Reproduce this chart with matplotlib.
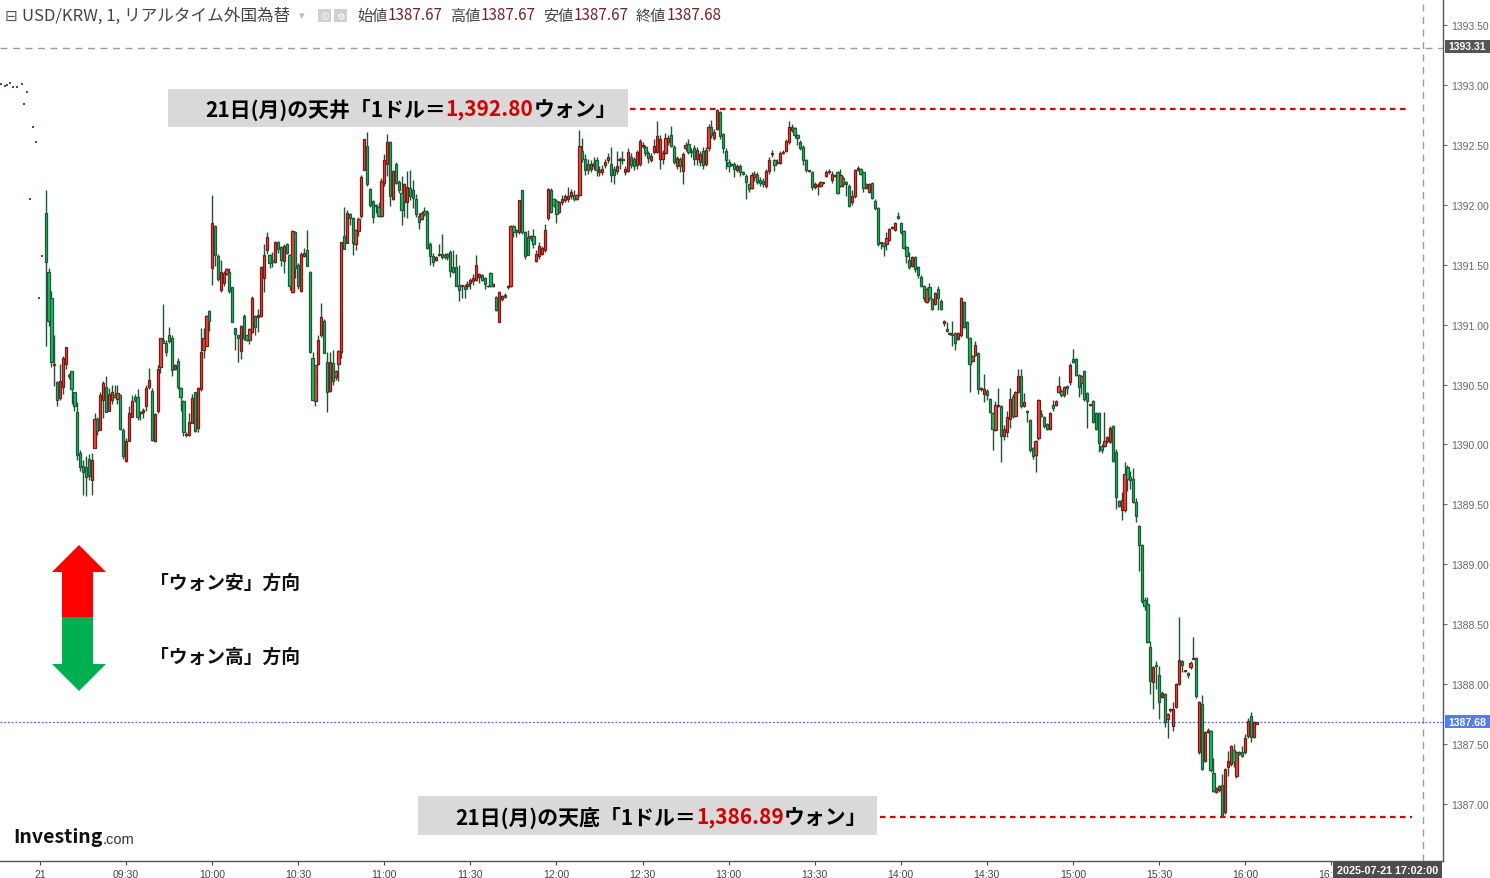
import numpy as np
import matplotlib
matplotlib.use("Agg")
import matplotlib.pyplot as plt
from matplotlib.patches import Rectangle, Polygon
from matplotlib.transforms import Bbox

JP = ["Noto Sans CJK JP", "DejaVu Sans"]
plt.rcParams["font.family"] = JP

W, H = 1490, 879

# 1-minute USD/KRW candles, 21 Jul, first bar at 09:02
FIRST_BAR_MIN = 2
opens = [
    1391.93, 1391.44, 1391.22, 1390.66, 1390.52, 1390.39, 1390.48, 1390.67, 1390.57, 1390.61,
    1390.44, 1390.27, 1389.93, 1389.82, 1389.81, 1389.88, 1389.70, 1389.97, 1390.21, 1390.12,
    1390.37, 1390.48, 1390.28, 1390.37, 1390.41, 1390.38, 1390.41, 1390.12, 1389.86, 1390.03,
    1390.23, 1390.40, 1390.40, 1390.26, 1390.27, 1390.32, 1390.48, 1390.45, 1390.03, 1390.28,
    1390.65, 1390.87, 1390.85, 1390.91, 1390.89, 1390.63, 1390.70, 1390.47, 1390.36, 1390.08,
    1390.08, 1390.18, 1390.44, 1390.14, 1390.46, 1390.79, 1390.82, 1391.11, 1391.47, 1391.82,
    1391.57, 1391.29, 1391.35, 1391.42, 1391.44, 1391.31, 1390.97, 1390.91, 1390.78, 1391.07,
    1390.91, 1390.87, 1390.94, 1391.07, 1391.06, 1391.07, 1391.39, 1391.62, 1391.58, 1391.54,
    1391.52, 1391.69, 1391.65, 1391.53, 1391.67, 1391.58, 1391.27, 1391.77, 1391.50, 1391.28,
    1391.57, 1391.62, 1391.44, 1390.72, 1390.36, 1390.67, 1390.91, 1391.03, 1390.69, 1390.45,
    1390.68, 1390.56, 1390.67, 1390.77, 1391.74, 1391.68, 1391.92, 1391.89, 1391.67, 1391.78,
    1391.91, 1392.29, 1392.49, 1392.13, 1392.03, 1392.00, 1391.98, 1391.91, 1392.18, 1392.34,
    1392.52, 1392.05, 1392.34, 1392.19, 1392.10, 1392.02, 1392.02, 1392.14, 1392.12, 1392.05,
    1391.91, 1391.88, 1391.95, 1391.94, 1391.67, 1391.57, 1391.54, 1391.58, 1391.59, 1391.58,
    1391.56, 1391.61, 1391.48, 1391.48, 1391.33, 1391.32, 1391.32, 1391.32, 1391.35, 1391.36,
    1391.37, 1391.40, 1391.41, 1391.39, 1391.32, 1391.43, 1391.32, 1391.23, 1391.02, 1391.21,
    1391.25, 1391.31, 1391.32, 1391.82, 1391.79, 1391.77, 1392.12, 1391.77, 1391.73, 1391.72,
    1391.74, 1391.53, 1391.57, 1391.59, 1391.62, 1391.89, 1392.12, 1392.05, 1392.03, 1391.94,
    1392.02, 1392.04, 1392.05, 1392.07, 1392.08, 1392.05, 1392.08, 1392.45, 1392.38, 1392.34,
    1392.30, 1392.32, 1392.37, 1392.27, 1392.27, 1392.33, 1392.37, 1392.34, 1392.30, 1392.28,
    1392.37, 1392.38, 1392.27, 1392.28, 1392.40, 1392.38, 1392.33, 1392.34, 1392.49, 1392.48,
    1392.43, 1392.37, 1392.44, 1392.44, 1392.38, 1392.38, 1392.43, 1392.52, 1392.58, 1392.48,
    1392.32, 1392.38, 1392.28, 1392.47, 1392.51, 1392.45, 1392.47, 1392.38, 1392.36, 1392.45,
    1392.34, 1392.47, 1392.65, 1392.56, 1392.63, 1392.77, 1392.59, 1392.45, 1392.36, 1392.34,
    1392.34, 1392.29, 1392.32, 1392.27, 1392.24, 1392.17, 1392.14, 1392.23, 1392.25, 1392.21,
    1392.20, 1392.16, 1392.28, 1392.42, 1392.37, 1392.35, 1392.35, 1392.43, 1392.45, 1392.52,
    1392.62, 1392.64, 1392.58, 1392.52, 1392.48, 1392.37, 1392.28, 1392.27, 1392.15, 1392.16,
    1392.16, 1392.18, 1392.24, 1392.27, 1392.21, 1392.24, 1392.27, 1392.16, 1392.22, 1392.19,
    1392.16, 1392.02, 1392.07, 1392.29, 1392.30, 1392.27, 1392.14, 1392.11, 1392.18, 1392.03,
    1391.97, 1391.68, 1391.68, 1391.67, 1391.71, 1391.81, 1391.79, 1391.91, 1391.85, 1391.78,
    1391.65, 1391.54, 1391.49, 1391.56, 1391.48, 1391.40, 1391.32, 1391.19, 1391.31, 1391.21,
    1391.17, 1391.30, 1391.20, 1391.01, 1390.96, 1390.92, 1390.92, 1390.93, 1390.88, 1390.91,
    1391.19, 1391.02, 1390.89, 1390.70, 1390.75, 1390.76, 1390.46, 1390.42, 1390.45, 1390.38,
    1390.26, 1390.12, 1390.32, 1390.32, 1390.07, 1390.10, 1390.21, 1390.40, 1390.24, 1390.44,
    1390.57, 1390.32, 1390.28, 1390.20, 1389.97, 1389.91, 1390.05, 1390.25, 1390.23, 1390.17,
    1390.13, 1390.33, 1390.33, 1390.44, 1390.45, 1390.41, 1390.49, 1390.52, 1390.71, 1390.71,
    1390.58, 1390.51, 1390.61, 1390.43, 1390.33, 1390.36, 1390.26, 1390.26, 1389.99, 1389.99,
    1390.03, 1390.02, 1390.15, 1389.94, 1389.53, 1389.45, 1389.45, 1389.81, 1389.73, 1389.71,
    1389.52, 1389.32, 1389.16, 1388.70, 1388.67, 1388.31, 1388.02, 1388.16, 1388.08, 1387.89,
    1387.92, 1387.71, 1387.78, 1387.65, 1387.81, 1388.00, 1388.19, 1388.11, 1388.09, 1388.14,
    1388.21, 1388.22, 1387.43, 1387.83, 1387.36, 1387.60, 1387.61, 1387.26, 1387.10, 1387.12,
    1387.16, 1386.93, 1387.31, 1387.33, 1387.45, 1387.23, 1387.43, 1387.43, 1387.43, 1387.57,
    1387.73, 1387.56, 1387.67,
]
highs = [
    1392.12, 1391.47, 1391.28, 1390.91, 1390.53, 1390.67, 1390.74, 1390.81, 1390.60, 1390.61,
    1390.44, 1390.35, 1389.95, 1389.87, 1389.90, 1389.92, 1389.93, 1390.26, 1390.23, 1390.44,
    1390.53, 1390.57, 1390.47, 1390.50, 1390.50, 1390.50, 1390.42, 1390.14, 1390.05, 1390.32,
    1390.41, 1390.42, 1390.46, 1390.28, 1390.30, 1390.50, 1390.64, 1390.47, 1390.26, 1390.66,
    1390.89, 1391.17, 1390.87, 1390.98, 1390.91, 1390.67, 1390.72, 1390.48, 1390.37, 1390.10,
    1390.26, 1390.42, 1390.44, 1390.48, 1390.97, 1390.97, 1391.08, 1391.12, 1392.08, 1391.83,
    1391.59, 1391.54, 1391.45, 1391.47, 1391.47, 1391.31, 1390.97, 1390.91, 1391.00, 1391.09,
    1390.91, 1390.97, 1391.24, 1391.08, 1391.13, 1391.49, 1391.67, 1391.77, 1391.59, 1391.61,
    1391.70, 1391.70, 1391.66, 1391.67, 1391.68, 1391.59, 1391.79, 1391.78, 1391.51, 1391.61,
    1391.64, 1391.79, 1391.45, 1390.77, 1390.66, 1390.91, 1391.18, 1391.05, 1390.77, 1390.77,
    1390.79, 1390.62, 1390.79, 1391.69, 1391.98, 1391.96, 1391.93, 1391.90, 1391.80, 1391.90,
    1392.25, 1392.55, 1392.61, 1392.14, 1392.04, 1392.01, 1392.02, 1392.22, 1392.42, 1392.59,
    1392.53, 1392.29, 1392.36, 1392.21, 1392.24, 1392.18, 1392.28, 1392.29, 1392.21, 1392.09,
    1391.93, 1391.95, 1391.98, 1391.96, 1391.69, 1391.60, 1391.57, 1391.67, 1391.76, 1391.60,
    1391.60, 1391.62, 1391.62, 1391.59, 1391.50, 1391.33, 1391.34, 1391.36, 1391.39, 1391.42,
    1391.58, 1391.43, 1391.42, 1391.40, 1391.33, 1391.44, 1391.35, 1391.24, 1391.28, 1391.25,
    1391.26, 1391.33, 1391.83, 1391.83, 1391.80, 1392.04, 1392.12, 1391.78, 1391.79, 1391.75,
    1391.80, 1391.62, 1391.69, 1391.66, 1391.84, 1392.14, 1392.14, 1392.06, 1392.05, 1392.03,
    1392.08, 1392.09, 1392.15, 1392.13, 1392.12, 1392.09, 1392.62, 1392.56, 1392.42, 1392.38,
    1392.37, 1392.40, 1392.40, 1392.32, 1392.33, 1392.38, 1392.43, 1392.48, 1392.32, 1392.45,
    1392.40, 1392.45, 1392.32, 1392.47, 1392.43, 1392.40, 1392.46, 1392.55, 1392.52, 1392.50,
    1392.45, 1392.43, 1392.55, 1392.70, 1392.58, 1392.46, 1392.60, 1392.58, 1392.66, 1392.50,
    1392.41, 1392.40, 1392.44, 1392.52, 1392.55, 1392.47, 1392.50, 1392.48, 1392.45, 1392.48,
    1392.48, 1392.67, 1392.71, 1392.63, 1392.80, 1392.78, 1392.60, 1392.47, 1392.38, 1392.35,
    1392.36, 1392.34, 1392.34, 1392.28, 1392.26, 1392.18, 1392.27, 1392.28, 1392.27, 1392.23,
    1392.22, 1392.30, 1392.40, 1392.46, 1392.38, 1392.38, 1392.45, 1392.46, 1392.55, 1392.70,
    1392.67, 1392.65, 1392.59, 1392.54, 1392.50, 1392.38, 1392.29, 1392.28, 1392.19, 1392.18,
    1392.20, 1392.19, 1392.29, 1392.30, 1392.28, 1392.25, 1392.28, 1392.30, 1392.24, 1392.20,
    1392.17, 1392.12, 1392.30, 1392.32, 1392.31, 1392.28, 1392.18, 1392.18, 1392.19, 1392.05,
    1391.98, 1391.69, 1391.69, 1391.77, 1391.81, 1391.82, 1391.86, 1391.94, 1391.86, 1391.79,
    1391.66, 1391.61, 1391.57, 1391.57, 1391.49, 1391.41, 1391.33, 1391.31, 1391.35, 1391.22,
    1391.27, 1391.32, 1391.21, 1391.04, 1391.02, 1390.94, 1391.03, 1390.94, 1390.94, 1391.23,
    1391.20, 1391.03, 1390.90, 1390.75, 1390.86, 1390.77, 1390.48, 1390.59, 1390.46, 1390.39,
    1390.27, 1390.36, 1390.47, 1390.33, 1390.16, 1390.28, 1390.47, 1390.42, 1390.45, 1390.63,
    1390.63, 1390.43, 1390.29, 1390.21, 1389.98, 1390.04, 1390.38, 1390.29, 1390.24, 1390.18,
    1390.27, 1390.37, 1390.37, 1390.57, 1390.46, 1390.49, 1390.50, 1390.68, 1390.80, 1390.72,
    1390.59, 1390.58, 1390.62, 1390.44, 1390.34, 1390.37, 1390.27, 1390.27, 1390.00, 1390.27,
    1390.07, 1390.15, 1390.16, 1389.96, 1389.54, 1389.60, 1389.85, 1389.83, 1389.78, 1389.80,
    1389.55, 1389.33, 1389.17, 1388.73, 1388.73, 1388.36, 1388.15, 1388.19, 1388.15, 1387.94,
    1387.93, 1387.76, 1387.80, 1387.85, 1388.01, 1388.56, 1388.20, 1388.12, 1388.10, 1388.19,
    1388.39, 1388.23, 1387.86, 1387.91, 1387.61, 1387.63, 1387.62, 1387.38, 1387.14, 1387.16,
    1387.25, 1387.30, 1387.44, 1387.49, 1387.50, 1387.44, 1387.44, 1387.48, 1387.58, 1387.72,
    1387.77, 1387.69, 1387.68,
]
lows = [
    1390.82, 1390.99, 1390.65, 1390.49, 1390.32, 1390.37, 1390.42, 1390.63, 1390.55, 1390.34,
    1390.28, 1389.87, 1389.78, 1389.58, 1389.57, 1389.70, 1389.58, 1389.97, 1390.08, 1390.12,
    1390.22, 1390.27, 1390.28, 1390.34, 1390.39, 1390.34, 1390.12, 1389.88, 1389.85, 1390.03,
    1390.23, 1390.35, 1390.20, 1390.20, 1390.22, 1390.28, 1390.46, 1390.03, 1390.02, 1390.26,
    1390.60, 1390.85, 1390.74, 1390.85, 1390.57, 1390.62, 1390.46, 1390.28, 1390.07, 1390.06,
    1390.07, 1390.18, 1390.10, 1390.10, 1390.45, 1390.72, 1390.82, 1390.95, 1391.33, 1391.49,
    1391.36, 1391.27, 1391.32, 1391.41, 1391.26, 1391.02, 1390.79, 1390.69, 1390.71, 1390.87,
    1390.86, 1390.84, 1390.93, 1390.91, 1390.94, 1391.06, 1391.27, 1391.59, 1391.47, 1391.48,
    1391.51, 1391.60, 1391.49, 1391.43, 1391.59, 1391.29, 1391.26, 1391.39, 1391.30, 1391.27,
    1391.56, 1391.49, 1390.76, 1390.37, 1390.32, 1390.66, 1390.90, 1390.76, 1390.27, 1390.44,
    1390.50, 1390.54, 1390.53, 1390.72, 1391.63, 1391.68, 1391.83, 1391.58, 1391.62, 1391.74,
    1391.89, 1392.29, 1392.16, 1391.98, 1391.85, 1391.93, 1391.90, 1391.90, 1392.16, 1392.24,
    1391.99, 1392.04, 1392.17, 1392.10, 1391.83, 1391.90, 1391.89, 1392.04, 1391.97, 1391.90,
    1391.80, 1391.87, 1391.91, 1391.63, 1391.50, 1391.49, 1391.53, 1391.57, 1391.55, 1391.55,
    1391.54, 1391.40, 1391.43, 1391.32, 1391.20, 1391.22, 1391.22, 1391.30, 1391.30, 1391.33,
    1391.36, 1391.35, 1391.36, 1391.30, 1391.31, 1391.31, 1391.31, 1391.11, 1391.02, 1391.20,
    1391.22, 1391.30, 1391.31, 1391.73, 1391.73, 1391.76, 1391.76, 1391.55, 1391.58, 1391.70,
    1391.64, 1391.52, 1391.55, 1391.58, 1391.61, 1391.87, 1391.93, 1391.98, 1391.85, 1391.93,
    1392.00, 1392.02, 1392.02, 1392.05, 1392.03, 1392.04, 1392.07, 1392.36, 1392.25, 1392.26,
    1392.27, 1392.29, 1392.24, 1392.24, 1392.25, 1392.31, 1392.35, 1392.19, 1392.17, 1392.26,
    1392.30, 1392.34, 1392.25, 1392.27, 1392.31, 1392.29, 1392.30, 1392.32, 1392.47, 1392.41,
    1392.35, 1392.36, 1392.42, 1392.43, 1392.30, 1392.34, 1392.42, 1392.50, 1392.48, 1392.34,
    1392.30, 1392.27, 1392.17, 1392.45, 1392.42, 1392.40, 1392.33, 1392.33, 1392.32, 1392.30,
    1392.32, 1392.45, 1392.56, 1392.54, 1392.62, 1392.55, 1392.43, 1392.30, 1392.27, 1392.32,
    1392.23, 1392.27, 1392.24, 1392.25, 1392.05, 1392.11, 1392.13, 1392.20, 1392.17, 1392.16,
    1392.15, 1392.14, 1392.26, 1392.40, 1392.28, 1392.34, 1392.34, 1392.42, 1392.44, 1392.51,
    1392.61, 1392.56, 1392.50, 1392.46, 1392.33, 1392.27, 1392.27, 1392.12, 1392.13, 1392.08,
    1392.15, 1392.17, 1392.23, 1392.26, 1392.18, 1392.23, 1392.09, 1392.15, 1392.15, 1392.07,
    1391.98, 1392.00, 1392.06, 1392.28, 1392.25, 1392.11, 1392.13, 1392.10, 1392.05, 1391.96,
    1391.66, 1391.63, 1391.57, 1391.62, 1391.70, 1391.80, 1391.78, 1391.88, 1391.76, 1391.63,
    1391.51, 1391.46, 1391.48, 1391.44, 1391.39, 1391.31, 1391.20, 1391.18, 1391.20, 1391.12,
    1391.16, 1391.12, 1391.12, 1390.99, 1390.94, 1390.91, 1390.82, 1390.79, 1390.87, 1390.90,
    1390.97, 1390.89, 1390.44, 1390.69, 1390.74, 1390.42, 1390.45, 1390.35, 1390.37, 1390.26,
    1389.95, 1390.11, 1390.31, 1389.85, 1390.04, 1390.06, 1390.14, 1390.22, 1390.23, 1390.43,
    1390.30, 1390.31, 1390.19, 1389.94, 1389.88, 1389.77, 1390.04, 1390.23, 1390.14, 1390.12,
    1390.12, 1390.28, 1390.32, 1390.43, 1390.40, 1390.40, 1390.42, 1390.50, 1390.68, 1390.57,
    1390.40, 1390.42, 1390.36, 1390.14, 1390.32, 1390.18, 1390.12, 1389.94, 1389.93, 1389.98,
    1390.01, 1390.01, 1389.85, 1389.46, 1389.48, 1389.37, 1389.44, 1389.61, 1389.63, 1389.51,
    1389.35, 1388.94, 1388.68, 1388.62, 1388.34, 1387.92, 1387.79, 1387.96, 1387.71, 1387.88,
    1387.64, 1387.55, 1387.77, 1387.61, 1387.80, 1387.99, 1388.10, 1388.10, 1388.05, 1388.13,
    1388.21, 1387.88, 1387.42, 1387.28, 1387.35, 1387.59, 1387.27, 1387.10, 1387.09, 1387.10,
    1386.89, 1386.92, 1387.23, 1387.32, 1387.31, 1387.22, 1387.41, 1387.39, 1387.42, 1387.55,
    1387.52, 1387.55, 1387.67,
]
closes = [
    1391.52, 1391.03, 1390.69, 1390.67, 1390.37, 1390.53, 1390.72, 1390.81, 1390.58, 1390.46,
    1390.32, 1389.91, 1389.81, 1389.77, 1389.73, 1389.74, 1389.87, 1390.21, 1390.11, 1390.41,
    1390.51, 1390.27, 1390.42, 1390.44, 1390.40, 1390.43, 1390.13, 1389.90, 1390.03, 1390.26,
    1390.36, 1390.37, 1390.23, 1390.27, 1390.29, 1390.47, 1390.54, 1390.04, 1390.25, 1390.63,
    1390.89, 1390.85, 1390.77, 1390.86, 1390.62, 1390.66, 1390.48, 1390.40, 1390.10, 1390.09,
    1390.19, 1390.39, 1390.11, 1390.47, 1390.77, 1390.89, 1391.07, 1391.03, 1391.85, 1391.58,
    1391.38, 1391.44, 1391.43, 1391.46, 1391.28, 1391.02, 1390.92, 1390.89, 1390.99, 1390.89,
    1390.87, 1390.96, 1391.22, 1390.98, 1391.08, 1391.48, 1391.58, 1391.73, 1391.51, 1391.52,
    1391.69, 1391.63, 1391.54, 1391.66, 1391.60, 1391.32, 1391.78, 1391.47, 1391.32, 1391.59,
    1391.60, 1391.49, 1390.77, 1390.37, 1390.66, 1390.87, 1391.06, 1390.76, 1390.44, 1390.69,
    1390.53, 1390.61, 1390.78, 1391.69, 1391.63, 1391.93, 1391.89, 1391.68, 1391.79, 1391.88,
    1392.23, 1392.55, 1392.17, 1392.00, 1391.90, 1391.99, 1391.91, 1392.20, 1392.37, 1392.52,
    1392.07, 1392.28, 1392.18, 1392.12, 1391.96, 1392.17, 1392.15, 1392.07, 1392.06, 1391.92,
    1391.86, 1391.93, 1391.92, 1391.64, 1391.57, 1391.52, 1391.56, 1391.58, 1391.56, 1391.56,
    1391.59, 1391.45, 1391.44, 1391.32, 1391.29, 1391.33, 1391.30, 1391.34, 1391.37, 1391.39,
    1391.50, 1391.42, 1391.37, 1391.34, 1391.32, 1391.32, 1391.34, 1391.12, 1391.27, 1391.24,
    1391.23, 1391.32, 1391.82, 1391.77, 1391.77, 1392.04, 1391.77, 1391.57, 1391.58, 1391.74,
    1391.67, 1391.59, 1391.66, 1391.64, 1391.79, 1392.13, 1391.94, 1392.00, 1391.92, 1392.02,
    1392.05, 1392.07, 1392.07, 1392.11, 1392.05, 1392.08, 1392.49, 1392.38, 1392.29, 1392.29,
    1392.34, 1392.35, 1392.29, 1392.29, 1392.30, 1392.36, 1392.40, 1392.25, 1392.25, 1392.32,
    1392.38, 1392.37, 1392.30, 1392.44, 1392.33, 1392.32, 1392.44, 1392.53, 1392.50, 1392.43,
    1392.39, 1392.41, 1392.49, 1392.57, 1392.55, 1392.43, 1392.56, 1392.56, 1392.49, 1392.36,
    1392.39, 1392.32, 1392.42, 1392.50, 1392.44, 1392.44, 1392.38, 1392.46, 1392.42, 1392.33,
    1392.46, 1392.65, 1392.58, 1392.61, 1392.79, 1392.57, 1392.47, 1392.37, 1392.32, 1392.33,
    1392.30, 1392.32, 1392.27, 1392.26, 1392.19, 1392.13, 1392.25, 1392.26, 1392.19, 1392.18,
    1392.17, 1392.28, 1392.37, 1392.43, 1392.33, 1392.36, 1392.43, 1392.44, 1392.53, 1392.65,
    1392.65, 1392.58, 1392.56, 1392.47, 1392.37, 1392.29, 1392.28, 1392.15, 1392.17, 1392.16,
    1392.19, 1392.18, 1392.27, 1392.28, 1392.26, 1392.24, 1392.10, 1392.25, 1392.17, 1392.17,
    1391.99, 1392.07, 1392.29, 1392.31, 1392.26, 1392.14, 1392.17, 1392.17, 1392.06, 1391.97,
    1391.67, 1391.68, 1391.66, 1391.72, 1391.80, 1391.81, 1391.85, 1391.89, 1391.77, 1391.64,
    1391.57, 1391.48, 1391.56, 1391.46, 1391.41, 1391.32, 1391.22, 1391.30, 1391.22, 1391.13,
    1391.26, 1391.22, 1391.13, 1391.03, 1390.95, 1390.93, 1390.91, 1390.85, 1390.93, 1391.22,
    1390.98, 1390.90, 1390.67, 1390.74, 1390.83, 1390.46, 1390.47, 1390.46, 1390.41, 1390.27,
    1390.13, 1390.33, 1390.33, 1390.07, 1390.13, 1390.23, 1390.38, 1390.24, 1390.44, 1390.57,
    1390.32, 1390.35, 1390.27, 1389.95, 1389.90, 1390.03, 1390.37, 1390.24, 1390.15, 1390.13,
    1390.26, 1390.30, 1390.36, 1390.49, 1390.41, 1390.48, 1390.47, 1390.66, 1390.69, 1390.58,
    1390.48, 1390.57, 1390.38, 1390.36, 1390.33, 1390.19, 1390.13, 1390.01, 1389.95, 1390.03,
    1390.06, 1390.14, 1389.86, 1389.56, 1389.49, 1389.54, 1389.75, 1389.71, 1389.70, 1389.52,
    1389.40, 1389.16, 1388.69, 1388.65, 1388.35, 1388.03, 1388.14, 1388.15, 1387.85, 1387.93,
    1387.68, 1387.75, 1387.79, 1387.79, 1388.00, 1388.20, 1388.16, 1388.11, 1388.08, 1388.18,
    1388.22, 1387.90, 1387.85, 1387.29, 1387.60, 1387.62, 1387.28, 1387.11, 1387.13, 1387.15,
    1386.90, 1387.29, 1387.36, 1387.48, 1387.35, 1387.43, 1387.42, 1387.40, 1387.55, 1387.69,
    1387.56, 1387.68, 1387.68,
]

# stray ticks left over from the previous session (minutes before 09:00)
pre_minutes = [-13.6, -12.2, -11.5, -10.5, -9.4, -8.0, -6.3, -5.6, -4.5, -3.5, -2.4, -1.4, -0.35, 0.7]
pre_prices = [1393.01, 1392.99, 1393.00, 1393.02, 1392.98, 1392.98, 1393.01, 1392.84, 1392.94,
              1392.05, 1392.65, 1392.52, 1391.22, 1391.57]

x_tick_min = [0, 30, 60, 90, 120, 150, 180, 210, 240, 270, 300, 330, 360, 390, 420, 450]
x_tick_lbl = ["21", "09:30", "10:00", "10:30", "11:00", "11:30", "12:00", "12:30",
              "13:00", "13:30", "14:00", "14:30", "15:00", "15:30", "16:00", "16:30"]
y_ticks = [1387.0, 1387.5, 1388.0, 1388.5, 1389.0, 1389.5, 1390.0, 1390.5,
           1391.0, 1391.5, 1392.0, 1392.5, 1393.0, 1393.5]

day_high = 1392.80
day_low = 1386.89
last_price = 1387.68
cross_price = 1393.31
cross_minute = 482  # 17:02

UP_FILL, UP_EDGE = "#f4473f", "#7a1a16"
DN_FILL, DN_EDGE = "#10c46a", "#1b5a35"
WICK = "#1e5534"


def fx(x):
    return x / W


def fy(y):
    return 1 - y / H


fig = plt.figure(figsize=(W / 100, H / 100), dpi=100)
fig.patch.set_facecolor("white")
ax = fig.add_axes([0, fy(862), fx(1443), 862 / H])

o = np.array(opens)
h = np.array(highs)
l = np.array(lows)
c = np.array(closes)
t = np.arange(len(c)) + FIRST_BAR_MIN
up = c >= o

ax.vlines(t, l, h, color=WICK, lw=1.0, zorder=2)
body_lo = np.minimum(o, c)
body_h = np.maximum(np.abs(c - o), 0.006)
ax.bar(t[up], body_h[up], bottom=body_lo[up], width=0.78,
       color=UP_FILL, edgecolor=UP_EDGE, linewidth=0.9, zorder=3)
ax.bar(t[~up], body_h[~up], bottom=body_lo[~up], width=0.78,
       color=DN_FILL, edgecolor=DN_EDGE, linewidth=0.9, zorder=3)
pm = np.array(pre_minutes)
ax.hlines(pre_prices, pm - 0.45, pm + 0.45, color="#6b1414", lw=1.2, zorder=3)

# reference lines
ax.axhline(cross_price, color="#9c9c9c", lw=1.0, ls=(0, (5, 4)), zorder=1)
ax.axvline(cross_minute, color="#9c9c9c", lw=1.0, ls=(0, (5, 4)), zorder=1)
ax.axhline(last_price, color="#3d6fe6", lw=0.9, ls=(0, (1.5, 1.5)), zorder=1)
ax.hlines(day_high, 205.6, 476.5, color="#e00000", lw=1.6, ls=(0, (2.5, 2)), zorder=4)
ax.hlines(day_low, 292.8, 478.2, color="#e00000", lw=1.6, ls=(0, (2.5, 2)), zorder=4)

ax.set_xlim(-13.94, 489.0)
ax.set_ylim(1386.524, 1393.717)
for s in ["left", "top"]:
    ax.spines[s].set_visible(False)
for s in ["right", "bottom"]:
    ax.spines[s].set_color("#555555")
    ax.spines[s].set_linewidth(1.0)

ax.yaxis.tick_right()
ax.set_yticks(y_ticks)
ax.set_yticklabels([f"{v:.2f}" for v in y_ticks])
ax.tick_params(axis="y", direction="out", length=3, width=0.8, colors="#666666",
               labelsize=7.5, pad=3)
ax.set_xticks(x_tick_min)
ax.set_xticklabels(x_tick_lbl)
ax.tick_params(axis="x", direction="out", length=3, width=0.8, colors="#444444",
               labelsize=7.6, pad=3)
plt.setp(ax.get_yticklabels(), family="Liberation Sans")
plt.setp(ax.get_xticklabels(), family="Liberation Sans")

# the last time label is partly hidden behind the crosshair date box
clip_bb = Bbox.from_extents(0, 0, 1332, H)
ax.get_xticklabels()[-1].set_clip_box(clip_bb)
ax.get_xticklabels()[-1].set_clip_on(True)

renderer = fig.canvas.get_renderer()


def seg_text(x, y, parts, size, weight="bold"):
    for txt, col in parts:
        tt = fig.text(fx(x), fy(y), txt, color=col, fontsize=size, fontweight=weight,
                      family=JP, ha="left", va="center")
        x += tt.get_window_extent(renderer).width
    return x


def fig_rect(x0, y0, x1, y1, color, **kw):
    fig.patches.append(Rectangle((fx(x0), fy(y1)), (x1 - x0) / W, (y1 - y0) / H,
                                 transform=fig.transFigure, facecolor=color,
                                 edgecolor="none", **kw))


# annotation boxes for day high / low
fig_rect(168, 90, 628, 128, "#d9d9d9")
seg_text(205, 110, [("21日(月)の天井「1ドル＝", "black"), ("1,392.80", "#d40000"),
                    ("ウォン」", "black")], 15)
fig_rect(418, 797, 877, 836, "#d9d9d9")
seg_text(455, 818, [("21日(月)の天底「1ドル＝", "black"), ("1,386.89", "#d40000"),
                    ("ウォン」", "black")], 15)

# direction arrows
fig.patches.append(Polygon([(fx(79), fy(546)), (fx(106), fy(573)), (fx(93), fy(573)),
                            (fx(93), fy(618)), (fx(62), fy(618)), (fx(62), fy(573)),
                            (fx(52), fy(573))], closed=True, transform=fig.transFigure,
                           facecolor="#ff0000", edgecolor="none"))
fig.patches.append(Polygon([(fx(62), fy(618)), (fx(93), fy(618)), (fx(93), fy(665)),
                            (fx(106), fy(665)), (fx(79), fy(692)), (fx(52), fy(665)),
                            (fx(62), fy(665))], closed=True, transform=fig.transFigure,
                           facecolor="#00b050", edgecolor="none"))
fig.text(fx(150), fy(583), "「ウォン安」方向", fontsize=13.5, fontweight="bold",
         family=JP, ha="left", va="center", color="#111111")
fig.text(fx(150), fy(657), "「ウォン高」方向", fontsize=13.5, fontweight="bold",
         family=JP, ha="left", va="center", color="#111111")

# header
fig.text(fx(5), fy(16), "⊟", fontsize=11, family="DejaVu Sans", color="#555555",
         ha="left", va="center")
fig.text(fx(22), fy(16), "USD/KRW, 1, リアルタイム外国為替", fontsize=12, family=JP,
         color="#444444", ha="left", va="center")
fig.text(fx(299), fy(16), "▾", fontsize=8, family="DejaVu Sans", color="#bbbbbb",
         ha="left", va="center")
fig_rect(318, 10, 331, 23, "#d0d0d0")
fig_rect(334, 10, 347, 23, "#d0d0d0")
fig.text(fx(324.5), fy(16.5), "◎", fontsize=7, family="DejaVu Sans", color="white",
         ha="center", va="center")
fig.text(fx(340.5), fy(16.5), "⚙", fontsize=7, family="DejaVu Sans", color="white",
         ha="center", va="center")
for lbl, val, x0 in [("始値", "1387.67", 357), ("高値", "1387.67", 450),
                     ("安値", "1387.67", 543), ("終値", "1387.68", 636)]:
    seg_text(x0, 16, [(lbl, "#444444"), (val, "#7a1f1f")], 10.9, weight="normal")

# price labels on the right axis
fig_rect(1445, 41, 1490, 54, "#555555")
fig.text(fx(1467), fy(47.5), f"{cross_price:.2f}", fontsize=7.5, fontweight="bold",
         family="Liberation Sans", color="white", ha="center", va="center")
fig_rect(1445, 716, 1490, 729, "#4f80ee")
fig.text(fx(1467), fy(722.5), f"{last_price:.2f}", fontsize=7.5, fontweight="bold",
         family="Liberation Sans", color="white", ha="center", va="center")
fig_rect(1333, 863, 1442, 879, "#4d4d4d")
fig.text(fx(1387.5), fy(871), "2025-07-21 17:02:00", fontsize=7.8, fontweight="bold",
         family="Liberation Sans", color="white", ha="center", va="center")

# logo
xe = seg_text(13, 838, [("Investing", "#111111")], 14)
fig.text(fx(xe), fy(840), ".com", fontsize=10.5, family="Liberation Sans",
         color="#333333", ha="left", va="center")

fig.savefig("out.png", dpi=100, facecolor="white")
